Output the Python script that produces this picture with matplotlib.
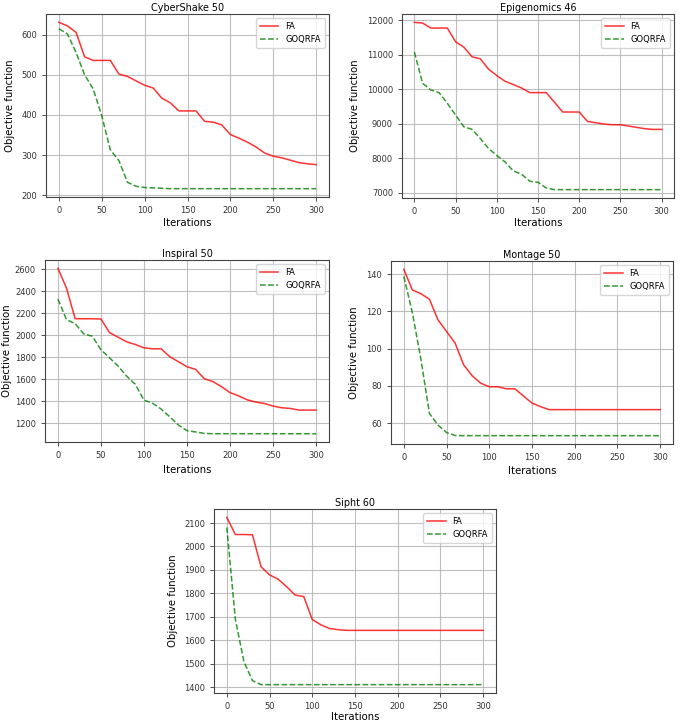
import matplotlib
matplotlib.use("Agg")
import matplotlib.pyplot as plt
import numpy as np

iterations = list(range(0, 301, 10))

titles = ["CyberShake 50", "Epigenomics 46", "Inspiral 50", "Montage 50", "Sipht 60"]

cyber_fa = [631, 622, 606, 545, 536, 536, 536, 502, 496, 485, 474, 467, 442, 430, 410,
            410, 410, 384, 382, 375, 351, 342, 332, 320, 305, 297, 293, 287, 281, 278, 276]
cyber_go = [615, 602, 556, 500, 465, 398, 313, 286, 232, 222, 219, 218, 217, 216, 216,
            216, 216, 216, 216, 216, 216, 216, 216, 216, 216, 216, 216, 216, 216, 216, 216]

epi_fa = [11942, 11922, 11777, 11777, 11777, 11379, 11223, 10942, 10883, 10583, 10398,
          10233, 10136, 10039, 9903, 9903, 9903, 9621, 9340, 9340, 9340, 9068, 9029, 8990,
          8971, 8971, 8932, 8893, 8854, 8835, 8835]
epi_go = [11078, 10175, 9980, 9903, 9592, 9252, 8913, 8835, 8573, 8282, 8078, 7893, 7631,
          7534, 7330, 7301, 7136, 7087, 7087, 7087, 7087, 7087, 7087, 7087, 7087, 7087,
          7087, 7087, 7087, 7087, 7087]

insp_fa = [2609, 2428, 2151, 2150, 2150, 2148, 2024, 1982, 1940, 1916, 1886, 1877, 1877,
           1805, 1760, 1714, 1690, 1606, 1579, 1533, 1479, 1449, 1413, 1392, 1380, 1356,
           1341, 1335, 1320, 1320, 1320]
insp_go = [2329, 2142, 2106, 2012, 1991, 1868, 1795, 1720, 1627, 1554, 1410, 1383, 1329,
           1259, 1184, 1133, 1121, 1108, 1105, 1105, 1105, 1105, 1105, 1105, 1105, 1105,
           1105, 1105, 1105, 1105, 1105]

mont_fa = [142.6, 131.5, 129.5, 126.5, 115.4, 109.2, 103.0, 91.3, 85.4, 81.4, 79.5, 79.5,
           78.4, 78.4, 74.5, 70.7, 68.8, 67.2, 67.2, 67.2, 67.2, 67.2, 67.2, 67.2, 67.2,
           67.2, 67.2, 67.2, 67.2, 67.2, 67.2]
mont_go = [138.8, 119.3, 94.3, 65.1, 58.9, 54.9, 53.3, 53.2, 53.2, 53.2, 53.2, 53.2, 53.2,
           53.2, 53.2, 53.2, 53.2, 53.2, 53.2, 53.2, 53.2, 53.2, 53.2, 53.2, 53.2, 53.2,
           53.2, 53.2, 53.2, 53.2, 53.2]

sipht_fa = [2124, 2051, 2051, 2050, 1914, 1879, 1861, 1829, 1793, 1787, 1689, 1667, 1651,
            1646, 1643, 1643, 1643, 1643, 1643, 1643, 1643, 1643, 1643, 1643, 1643, 1643,
            1643, 1643, 1643, 1643, 1643]
sipht_go = [2081, 1690, 1510, 1429, 1412, 1412, 1412, 1412, 1412, 1412, 1412, 1412, 1412,
            1412, 1412, 1412, 1412, 1412, 1412, 1412, 1412, 1412, 1412, 1412, 1412, 1412,
            1412, 1412, 1412, 1412, 1412]

series = [(cyber_fa, cyber_go), (epi_fa, epi_go), (insp_fa, insp_go),
          (mont_fa, mont_go), (sipht_fa, sipht_go)]

W, H = 685, 726
# pixel boxes: left, right, top, bottom
boxes = [(46, 329, 14, 197), (402, 674, 14, 198), (45, 329, 260, 442),
         (391, 673, 261, 444), (214, 496, 509, 693)]
# pixel centres of y-label (x) and x-label (y)
ylab_x = [10, 355, 7, 354, 173]
xlab_y = [223, 223, 470, 471, 717]

fig = plt.figure(figsize=(W / 100, H / 100), dpi=100)

for (l, r, t, b), title, (fa, go), yx, xy in zip(boxes, titles, series, ylab_x, xlab_y):
    ax = fig.add_axes([l / W, (H - b) / H, (r - l) / W, (b - t) / H])
    ax.plot(iterations, fa, color="red", alpha=0.8, lw=1.1, label="FA")
    ax.plot(iterations, go, color="green", alpha=0.8, lw=1.1, ls="--", label="GOQRFA")
    ax.set_xticks([0, 50, 100, 150, 200, 250, 300])
    ax.grid(True, color="#b0b0b0", lw=0.8, alpha=0.8)
    ax.set_axisbelow(True)
    ax.tick_params(labelsize=6, length=3, width=0.6, colors="#333333")
    for s in ax.spines.values():
        s.set_color("#444444")
        s.set_linewidth(0.8)
    ax.set_title(title, fontsize=6.9, pad=2.5)
    ax.set_xlabel("Iterations", fontsize=7.3, va="center")
    ax.set_ylabel("Objective function", fontsize=7.3, va="center")
    ax.xaxis.set_label_coords(0.5, (b - xy) / (b - t))
    ax.yaxis.set_label_coords((yx - l) / (r - l), 0.5)
    ax.legend(loc="upper right", fontsize=6, handlelength=2.2, borderpad=0.5,
              labelspacing=0.4, framealpha=0.8, edgecolor="#cccccc")

fig.savefig("out.png", dpi=100)
